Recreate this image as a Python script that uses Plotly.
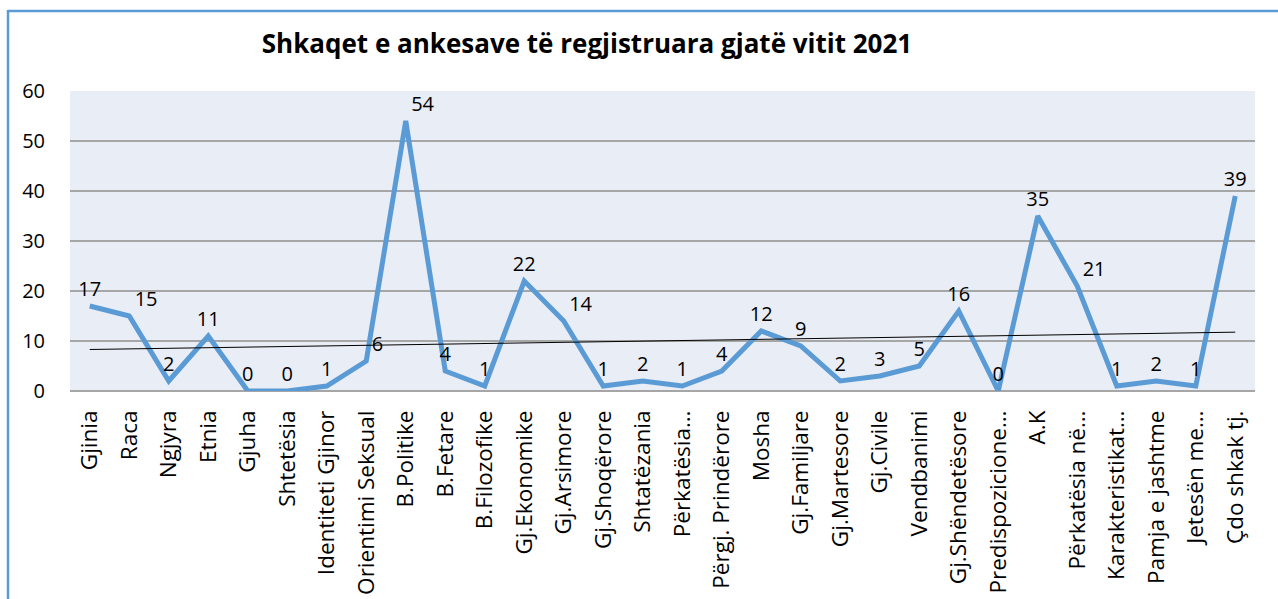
import numpy as np
import plotly.graph_objects as go

categories = ["Gjinia", "Raca", "Ngjyra", "Etnia", "Gjuha", "Shtetësia", "Identiteti Gjinor",
              "Orientimi Seksual", "B.Politike", "B.Fetare", "B.Filozofike", "Gj.Ekonomike",
              "Gj.Arsimore", "Gj.Shoqërore", "Shtatëzania", "Përkatësia…", "Përgj. Prindërore",
              "Mosha", "Gj.Familjare", "Gj.Martesore", "Gj.Civile", "Vendbanimi",
              "Gj.Shëndetësore", "Predispozicione…", "A.K", "Përkatësia në…", "Karakteristikat…",
              "Pamja e jashtme", "Jetesën me…", "Çdo shkak tj."]
values = [17, 15, 2, 11, 0, 0, 1, 6, 54, 4, 1, 22, 14, 1, 2, 1, 4, 12, 9, 2, 3, 5, 16, 0,
          35, 21, 1, 2, 1, 39]
y_ticks = [0, 10, 20, 30, 40, 50, 60]
title_text = "Shkaqet e ankesave të regjistruara gjatë vitit 2021"

label_pos = ["top center"] * len(values)
for i in (1, 7, 8, 12, 25):
    label_pos[i] = "top right"

idx = np.arange(len(values))
slope, intercept = np.polyfit(idx, values, 1)
trend = slope * idx + intercept

FONT = "Open Sans"
W, H = 1278, 599
L, R, T, B = 70, 23, 91, 208
pw, ph = W - L - R, H - T - B

def px_x(p):
    return (p - L) / pw

def px_y(p):
    return (H - B - p) / ph

fig = go.Figure()
fig.add_trace(go.Scatter(
    x=categories, y=values, mode="lines+markers+text", text=[str(v) for v in values],
    textposition=label_pos, textfont=dict(family=FONT, size=20, color="#000000"),
    marker=dict(size=7, opacity=0, color="#5B9BD5"),
    line=dict(color="#5B9BD5", width=5), cliponaxis=False, showlegend=False,
    hoverinfo="x+y"))
fig.add_trace(go.Scatter(
    x=categories, y=trend, mode="lines", line=dict(color="#000000", width=1),
    showlegend=False, hoverinfo="skip"))

fig.update_layout(
    width=W, height=H, margin=dict(l=L, r=R, t=T, b=B, autoexpand=False),
    paper_bgcolor="#FFFFFF", plot_bgcolor="#E9EDF5",
    font=dict(family=FONT, size=20, color="#000000"),
    title=dict(text="<b>" + title_text + "</b>", x=587 / W,
               xanchor="center", y=1 - 44 / H, yanchor="middle",
               font=dict(family=FONT, size=26, color="#000000")),
    xaxis=dict(type="category", range=[-0.5, len(categories) - 0.5], tickangle=-90,
               showgrid=False, showline=False,
               automargin=False, ticks="", tickfont=dict(family=FONT, size=22.5),
               ticklabelstandoff=14),
    yaxis=dict(range=[0, 60], tickvals=y_ticks, showgrid=True, gridcolor="#A6A6A6",
               gridwidth=1.5, zeroline=True, zerolinecolor="#A6A6A6", zerolinewidth=1.5,
               showline=False, automargin=False, ticks="",
               tickfont=dict(family=FONT, size=20), ticklabelstandoff=24),
)
fig.add_shape(type="line", xref="paper", yref="paper", x0=px_x(8), x1=px_x(W + 5),
              y0=px_y(11), y1=px_y(11), line=dict(color="#5B9BD5", width=2.5))
fig.add_shape(type="line", xref="paper", yref="paper", x0=px_x(8), x1=px_x(8),
              y0=px_y(10), y1=px_y(H + 5), line=dict(color="#5B9BD5", width=2.5))

fig.write_html("out.html", config={"displayModeBar": False},
               post_script="document.body.style.margin='0px';document.body.style.overflow='hidden';")
